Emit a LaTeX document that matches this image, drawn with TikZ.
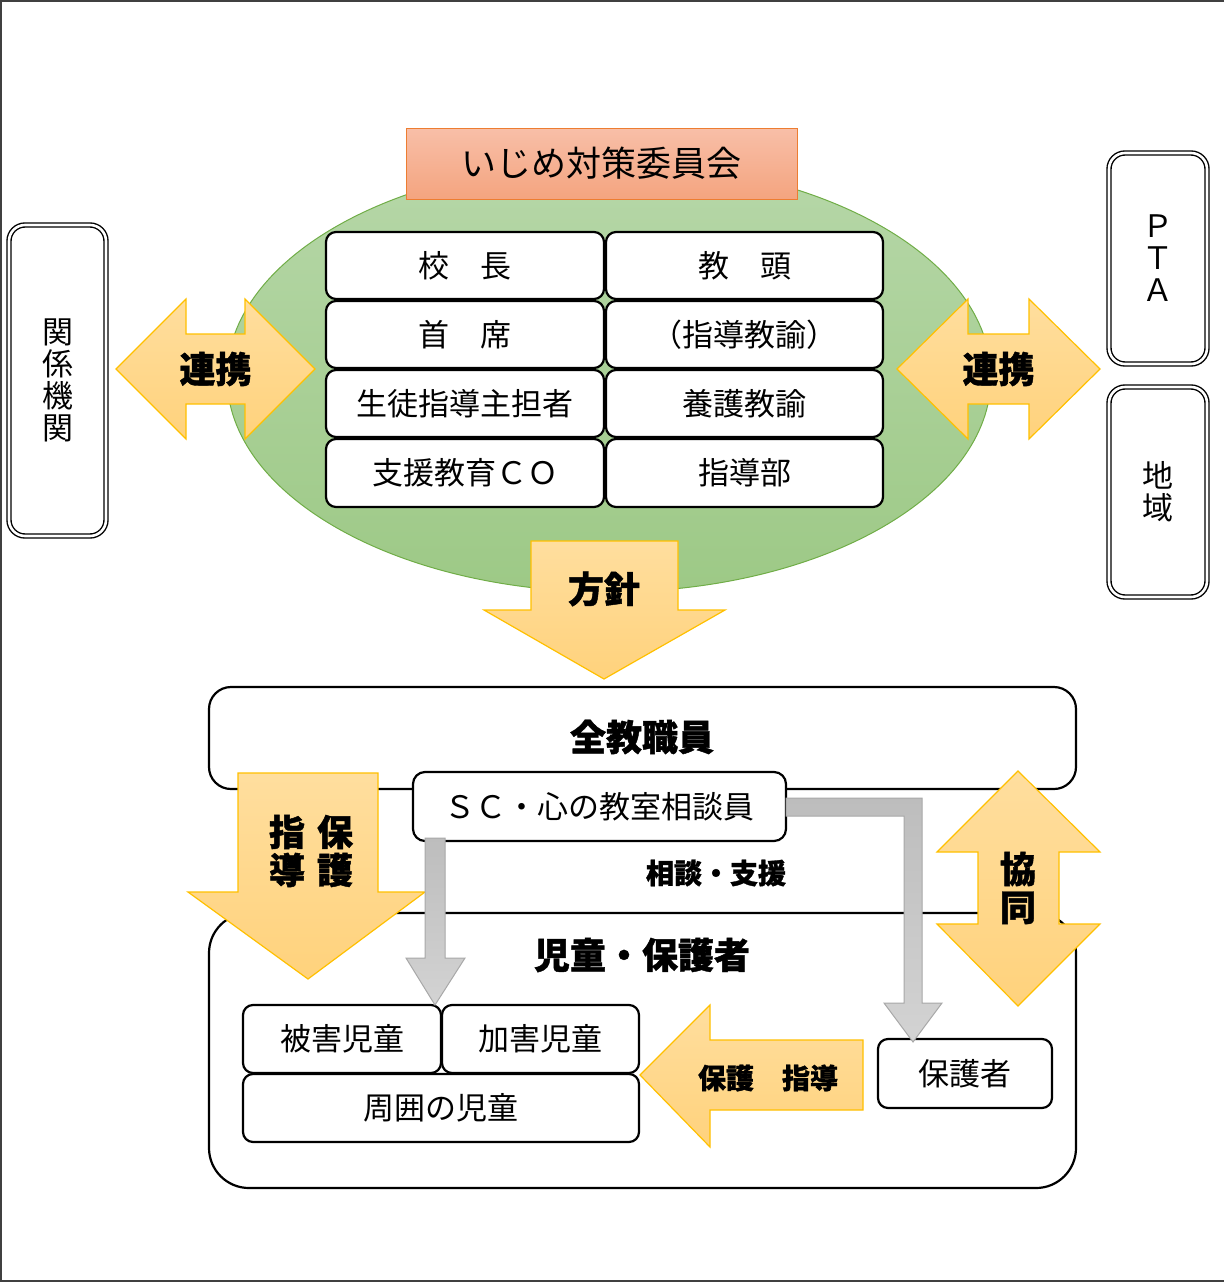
\documentclass[tikz,border=0pt]{standalone}
\usepackage{fontspec}
\newfontfamily\cjk[BoldFeatures={FakeBold=1.2}]{Noto Sans CJK JP}
\definecolor{arrfill1}{HTML}{FFDE9E}
\definecolor{arrfill2}{HTML}{FFD27C}
\definecolor{arrline}{HTML}{FFC000}
\definecolor{ellfill1}{HTML}{B6D7A8}
\definecolor{ellfill2}{HTML}{9DC986}
\definecolor{ellline}{HTML}{70AD47}
\definecolor{ttlfill1}{HTML}{F8BFA8}
\definecolor{ttlfill2}{HTML}{F4A47F}
\definecolor{ttlline}{HTML}{ED7D31}
\definecolor{gry1}{HTML}{BDBDBD}
\definecolor{gry2}{HTML}{D3D3D3}
\definecolor{gryline}{HTML}{A8A8A8}
\tikzset{
  jp/.style={font=\cjk\fontsize{31}{32}\selectfont},
  jpb/.style={font=\cjk\bfseries\fontsize{36}{38}\selectfont},
  jpbs/.style={font=\cjk\bfseries\fontsize{28}{30}\selectfont},
  cell/.style={draw=black, line width=2.2pt, rounded corners=10pt, fill=white, inner sep=0pt, jp},
  dbox/.style={draw=black, double=white, double distance=2.6pt, line width=1.4pt, rounded corners=16pt, fill=white, inner sep=0pt, jp, align=center},
  blockarrow/.style={draw=arrline, line width=1.2pt, top color=arrfill1, bottom color=arrfill2, line join=miter},
  grayarrow/.style={draw=gryline, line width=1pt, top color=gry1, bottom color=gry2},
}
\begin{document}
\begin{tikzpicture}[x=1pt,y=-1pt]
\useasboundingbox (0,0) rectangle (1224,1282);
% outer frame (no right side)
\draw[line width=1.6pt, black!75] (1224,1) -- (1,1) -- (1,1281) -- (1224,1281);

% committee ellipse
\path[draw=ellline, line width=1pt, top color=ellfill1, bottom color=ellfill2] (609,377) ellipse [x radius=382, y radius=215];
\node[draw=ttlline, line width=1pt, top color=ttlfill1, bottom color=ttlfill2, minimum width=391pt, minimum height=71pt, inner sep=0pt, font=\cjk\fontsize{35}{36}\selectfont] (title) at (601.5,163.5) {いじめ対策委員会};

% member table
\node[cell, minimum width=278pt, minimum height=67pt] (c11) at (465,265.5) {校\quad 長};
\node[cell, minimum width=277pt, minimum height=67pt] (c12) at (744.5,265.5) {教\quad 頭};
\node[cell, minimum width=278pt, minimum height=67pt] (c21) at (465,334.5) {首\quad 席};
\node[cell, minimum width=277pt, minimum height=67pt] (c22) at (744.5,334.5) {（指導教諭）};
\node[cell, minimum width=278pt, minimum height=67pt] (c31) at (465,403.5) {生徒指導主担者};
\node[cell, minimum width=277pt, minimum height=67pt] (c32) at (744.5,403.5) {養護教諭};
\node[cell, minimum width=278pt, minimum height=68pt] (c41) at (465,473) {支援教育ＣＯ};
\node[cell, minimum width=277pt, minimum height=68pt] (c42) at (744.5,473) {指導部};

% outside partners
\node[dbox, minimum width=97pt, minimum height=311pt] (kankei) at (57.5,380.5) {関\\係\\機\\関};
\node[dbox, minimum width=98pt, minimum height=211pt] (pta) at (1158,258.5) {Ｐ\\Ｔ\\Ａ};
\node[dbox, minimum width=98pt, minimum height=210pt] (chiiki) at (1158,492) {地\\域};

% renkei arrows
\path[blockarrow] (116,369) -- (186,299) -- (186,334) -- (245,334) -- (245,299) -- (315,369) -- (245,439) -- (245,404) -- (186,404) -- (186,439) -- cycle;
\node[jpb] (renkeiL) at (215.5,369) {連携};
\path[blockarrow] (897,369) -- (968,299) -- (968,334) -- (1029,334) -- (1029,299) -- (1100,369) -- (1029,439) -- (1029,404) -- (968,404) -- (968,439) -- cycle;
\node[jpb] (renkeiR) at (998.5,369) {連携};

% houshin arrow
\path[blockarrow] (531,541) -- (678,541) -- (678,610) -- (725,610) -- (604,679) -- (484,610) -- (531,610) -- cycle;
\node[jpb] (houshin) at (604,589) {方針};

% staff and students
\node[draw=black, line width=2.2pt, rounded corners=22pt, fill=white, minimum width=867pt, minimum height=102pt, inner sep=0pt] (staff) at (642.5,738) {};
\node[jpb] (stafftxt) at (642,737) {全教職員};
\node[draw=black, line width=2.2pt, rounded corners=40pt, fill=white, minimum width=867pt, minimum height=275pt, inner sep=0pt] (kids) at (642.5,1050.5) {};
\node[jpb] (kidstxt) at (642,955) {児童・保護者};
\node[cell, rounded corners=12pt, minimum width=373pt, minimum height=69pt] (sc) at (599.5,806.5) {ＳＣ・心の教室相談員};
\node[jpbs] (soudan) at (716,873) {相談・支援};

% shidou hogo down arrow
\path[blockarrow] (238,773) -- (378,773) -- (378,892) -- (425,892) -- (308,979) -- (188,892) -- (238,892) -- cycle;
\node[jpb, align=center] (shidou) at (287,851) {指\\導};
\node[jpb, align=center] (hogo) at (335,851) {保\\護};

% bottom boxes
\node[cell, minimum width=198pt, minimum height=68pt] (higai) at (342,1039) {被害児童};
\node[cell, minimum width=197pt, minimum height=68pt] (kagai) at (540.5,1039) {加害児童};
\node[cell, minimum width=396pt, minimum height=68pt] (shui) at (441,1108) {周囲の児童};
\node[cell, minimum width=174pt, minimum height=69pt] (hogosha) at (965,1073.5) {保護者};

% gray arrows from SC
\path[grayarrow] (425,838) -- (445,838) -- (445,958) -- (465,958) -- (435,1005) -- (406,958) -- (425,958) -- cycle;
\path[grayarrow] (786,798) -- (922,798) -- (922,1003) -- (942,1003) -- (913,1042) -- (884,1003) -- (904,1003) -- (904,816) -- (786,816) -- cycle;

% hogo shidou left arrow
\path[blockarrow] (640,1075) -- (710,1005) -- (710,1040) -- (863,1040) -- (863,1110) -- (710,1110) -- (710,1147) -- cycle;
\node[jpbs] (hogoshidou) at (768,1078) {保護\quad 指導};

% kyoudou up-down arrow
\path[blockarrow] (1018,771) -- (1100,852) -- (1059,852) -- (1059,924) -- (1100,924) -- (1018,1006) -- (937,924) -- (978,924) -- (978,852) -- (937,852) -- cycle;
\node[jpb, align=center] (kyoudou) at (1018,888) {協\\同};
\end{tikzpicture}
\end{document}
